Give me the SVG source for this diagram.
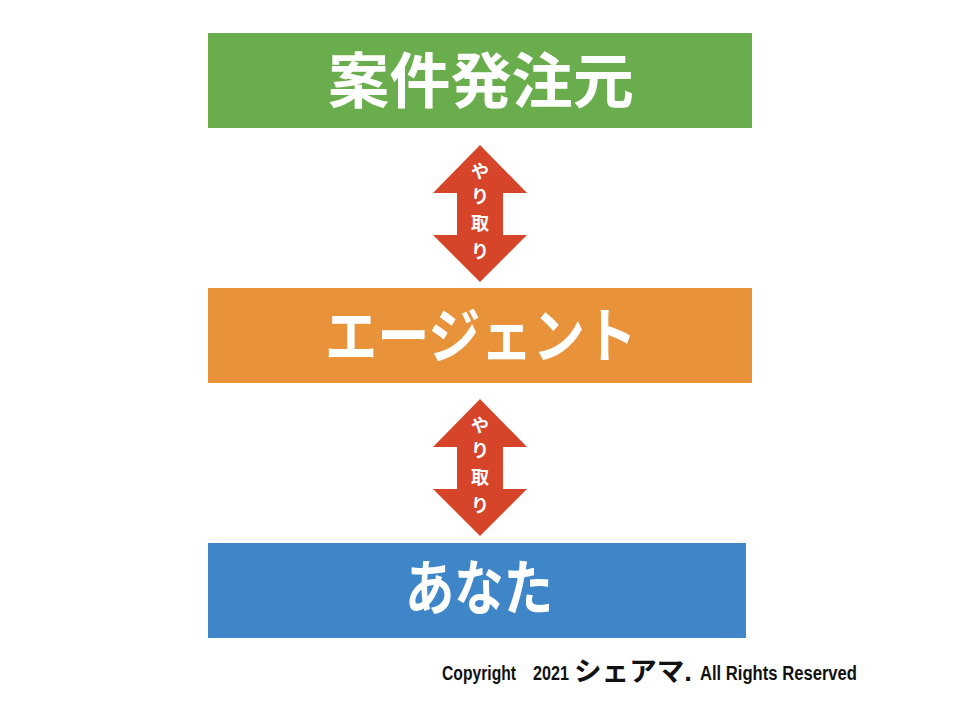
<svg xmlns="http://www.w3.org/2000/svg" width="960" height="720" viewBox="0 0 960 720">
<style>
.box-label{font-family:"Noto Sans CJK JP","Noto Sans CJK SC",sans-serif;font-weight:bold;font-size:60px;fill:#ffffff;text-anchor:middle}
.arrow{fill:#d6442a}
.arrow-label{font-family:"Noto Sans CJK JP","Noto Sans CJK SC",sans-serif;font-weight:bold;font-size:18px;fill:#ffffff;text-anchor:middle}
.copy{font-family:"Liberation Sans","Noto Sans CJK JP",sans-serif;font-weight:bold;fill:#111111}
</style>
<rect width="960" height="720" fill="#ffffff"/>
<g id="node-client">
<rect x="208" y="33" width="544" height="95" fill="#6aad4c"/>
<text class="box-label" x="481" y="103" textLength="306" lengthAdjust="spacingAndGlyphs">案件発注元</text>
</g>
<g id="node-agent">
<rect x="208" y="288" width="544" height="95" fill="#e8923a"/>
<text class="box-label" x="481" y="358" textLength="312" lengthAdjust="spacingAndGlyphs">エージェント</text>
</g>
<g id="node-you">
<rect x="208" y="543" width="538" height="95" fill="#3e86c8"/>
<text class="box-label" x="479" y="610" font-size="56" textLength="148" lengthAdjust="spacingAndGlyphs">あなた</text>
</g>
<g id="connectors">
<g id="arrow-1">
<polygon class="arrow" points="480,145 527,193 503,193 503,235 527,235 480,282 433,235 457,235 457,193 433,193"/>
<text class="arrow-label" x="480" y="178">や</text>
<text class="arrow-label" x="480" y="203">り</text>
<text class="arrow-label" x="480" y="230">取</text>
<text class="arrow-label" x="480" y="258">り</text>
</g>
<g id="arrow-2">
<polygon class="arrow" points="480,399 527,447 503,447 503,489 527,489 480,536 433,489 457,489 457,447 433,447"/>
<text class="arrow-label" x="480" y="432">や</text>
<text class="arrow-label" x="480" y="457">り</text>
<text class="arrow-label" x="480" y="484">取</text>
<text class="arrow-label" x="480" y="512">り</text>
</g>
</g>
<g id="copyright">
<text class="copy" x="442" y="680" font-size="20" textLength="74" lengthAdjust="spacingAndGlyphs">Copyright</text>
<text class="copy" x="533" y="680" font-size="20" textLength="36" lengthAdjust="spacingAndGlyphs">2021</text>
<text class="copy" x="574" y="681" font-size="27" textLength="118" lengthAdjust="spacingAndGlyphs">シェアマ.</text>
<text class="copy" x="700" y="680" font-size="20" textLength="157" lengthAdjust="spacingAndGlyphs">All  Rights  Reserved</text>
</g>
</svg>
